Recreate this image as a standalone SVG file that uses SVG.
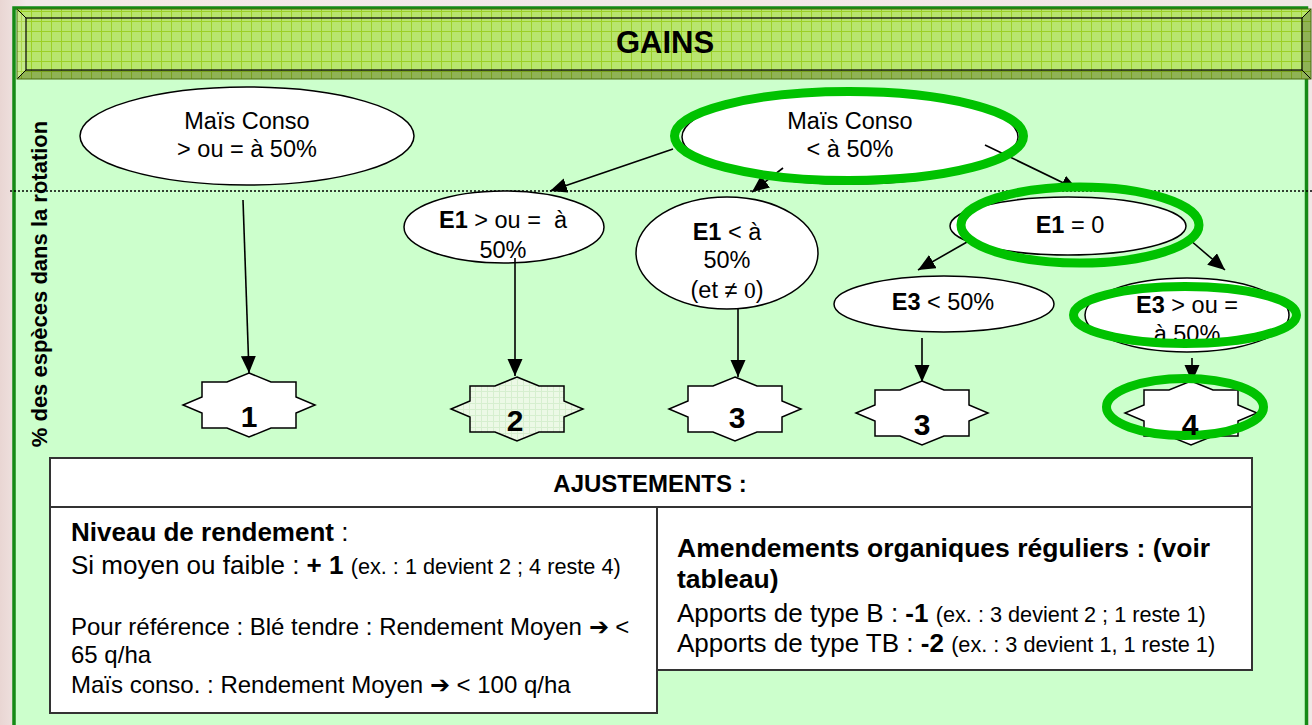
<svg xmlns="http://www.w3.org/2000/svg" width="1312" height="725" viewBox="0 0 1312 725">
<style>
.t{font-family:"Liberation Sans",Arial,sans-serif;fill:#000}
.b{font-weight:bold}
.el{fill:#fff;stroke:#000;stroke-width:1.5}
.hl{fill:none;stroke:#00c200;stroke-width:9}
.cn{stroke:#000;stroke-width:1.6;fill:none;marker-end:url(#ah)}
.box{fill:#fff;stroke:#333;stroke-width:2}
.star{fill:#fff;stroke:#000;stroke-width:1.5}
.num{font-family:"Liberation Sans",Arial,sans-serif;font-weight:bold;font-size:30px;text-anchor:middle}
.m{font-size:23.5px;text-anchor:middle}
</style>
<defs>
<marker id="ah" markerUnits="userSpaceOnUse" markerWidth="18" markerHeight="16" refX="17" refY="7.5" orient="auto"><path d="M0,0 L17,7.5 L0,15 z" fill="#000"/></marker>
<pattern id="grid" width="10" height="10" patternUnits="userSpaceOnUse" x="1" y="1"><rect width="10" height="10" fill="#b8e56e"/><path d="M0,0.5 H10 M0.5,0 V10" stroke="#9ccf26" stroke-width="1"/></pattern>
<pattern id="lgrid" width="6" height="6" patternUnits="userSpaceOnUse"><rect width="6" height="6" fill="#ecf9e6"/><path d="M0,0.5 H6 M0.5,0 V6" stroke="#d6efcf" stroke-width="1"/></pattern>
<linearGradient id="bg" x1="0" y1="0" x2="1" y2="0"><stop offset="0" stop-color="#e9d6d3"/><stop offset="0.02" stop-color="#f3e9e8"/><stop offset="1" stop-color="#f1e7e6"/></linearGradient>
<polygon id="star" points="0,-32 22,-23 47,-23 47,-8 66,0 47,8 47,23 22,23 0,32 -22,23 -47,23 -47,8 -66,0 -47,-8 -47,-23 -22,-23"/>
</defs>

<!-- background and frame -->
<rect x="0" y="0" width="1312" height="725" fill="url(#bg)"/>
<rect x="14" y="8" width="1292.5" height="760" fill="#ccffcc" stroke="#158a15" stroke-width="3.5"/>

<!-- banner -->
<g id="banner">
<rect x="17" y="9" width="1294" height="70" fill="url(#grid)"/>
<polygon points="17,9 26,18 26,70 17,79" fill="#ffffff" fill-opacity="0.18"/>
<polygon points="17,79 26,70 1302,70 1311,79" fill="#000" fill-opacity="0.22"/>
<polygon points="1311,9 1302,18 1302,70 1311,79" fill="#000" fill-opacity="0.22"/>
<rect x="26" y="18" width="1276" height="52" fill="none" stroke="#000" stroke-width="1.2"/>
<path d="M17,9 L26,18 M1311,9 L1302,18 M17,79 L26,70 M1311,79 L1302,70" stroke="#000" stroke-width="1"/>
<rect x="17" y="9" width="1294" height="70" fill="none" stroke="#4a6a10" stroke-width="1"/>
<text class="t b" x="665" y="53" font-size="31" text-anchor="middle">GAINS</text>
</g>

<!-- axis label and dotted line -->
<line x1="10" y1="191" x2="1312" y2="191" stroke="#000" stroke-width="1.5" stroke-dasharray="2,2"/>
<text class="t b" font-size="22" text-anchor="middle" transform="translate(47,284) rotate(-90)">% des espèces dans la rotation</text>

<!-- nodes -->
<g id="n-mais-ge">
<ellipse class="el" cx="247" cy="136" rx="167" ry="49"/>
<text class="t m" x="247" y="129">Maïs Conso</text>
<text class="t m" x="247" y="157">&gt; ou = à 50%</text>
</g>
<g id="n-mais-lt">
<ellipse class="el" cx="850" cy="137" rx="168" ry="47"/>
<text class="t m" x="850" y="129">Maïs Conso</text>
<text class="t m" x="850" y="157">&lt; à 50%</text>
</g>
<g id="n-e1-ge">
<ellipse class="el" cx="504" cy="227" rx="100" ry="36"/>
<text class="t" x="439" y="228" font-size="23.5" xml:space="preserve"><tspan class="b">E1</tspan> &gt; ou =  à</text>
<text class="t m" x="503" y="258">50%</text>
</g>
<g id="n-e1-lt">
<ellipse class="el" cx="727" cy="253" rx="91" ry="56"/>
<text class="t m" x="727" y="240"><tspan class="b">E1</tspan> &lt; à</text>
<text class="t m" x="727" y="268">50%</text>
<text class="t m" x="727" y="298">(et ≠ <tspan font-family="'Liberation Serif',serif">0</tspan>)</text>
</g>
<g id="n-e1-0">
<ellipse class="el" cx="1068" cy="226" rx="118" ry="29"/>
<text class="t m" x="1070" y="233"><tspan class="b">E1</tspan> = 0</text>
</g>
<g id="n-e3-lt">
<ellipse class="el" cx="944" cy="304" rx="110" ry="28"/>
<text class="t m" x="943" y="310"><tspan class="b">E3</tspan> &lt; 50%</text>
</g>
<g id="n-e3-ge">
<ellipse class="el" cx="1187" cy="315" rx="102" ry="37"/>
<text class="t m" x="1187" y="313"><tspan class="b">E3</tspan> &gt; ou =</text>
<text class="t m" x="1187" y="342">à 50%</text>
</g>

<!-- connectors -->
<g id="connectors">
<line class="cn" x1="243" y1="200" x2="249" y2="373"/>
<line class="cn" x1="673" y1="149" x2="550" y2="191"/>
<line class="cn" x1="783" y1="168" x2="752" y2="192"/>
<line class="cn" x1="985" y1="145" x2="1078" y2="190"/>
<line class="cn" x1="515" y1="258" x2="515" y2="376"/>
<line class="cn" x1="738" y1="309" x2="738" y2="377"/>
<line class="cn" x1="967" y1="242" x2="918" y2="270"/>
<line class="cn" x1="1190" y1="240" x2="1225" y2="270"/>
<line class="cn" x1="922" y1="338" x2="922" y2="382"/>
<line class="cn" x1="1192" y1="358" x2="1192" y2="382"/>
</g>

<!-- result stars -->
<g id="s1"><use href="#star" class="star" transform="translate(249,405)"/><text class="num" x="249" y="427">1</text></g>
<g id="s2"><use href="#star" class="star" style="fill:url(#lgrid)" transform="translate(517,409)"/><text class="num" x="515" y="431">2</text></g>
<g id="s3a"><use href="#star" class="star" transform="translate(735,409)"/><text class="num" x="737" y="428">3</text></g>
<g id="s3b"><use href="#star" class="star" transform="translate(922,413)"/><text class="num" x="922" y="435">3</text></g>
<g id="s4"><use href="#star" class="star" transform="translate(1191,413)"/></g>

<!-- highlight rings -->
<g id="highlights">
<ellipse class="hl" cx="849" cy="136" rx="174.5" ry="44.5"/>
<ellipse class="hl" cx="1080" cy="225" rx="119" ry="38"/>
<ellipse class="hl" cx="1185" cy="315" rx="111.5" ry="28.5"/>
<ellipse class="hl" cx="1185" cy="407" rx="78.5" ry="28.5"/>
</g>
<text class="num" x="1190" y="435">4</text>

<!-- adjustments -->
<g id="ajustements">
<rect class="box" x="50" y="458" width="1202" height="49"/>
<text class="t b" x="650" y="492" font-size="24" text-anchor="middle">AJUSTEMENTS :</text>
</g>
<g id="rendement">
<rect class="box" x="50" y="507" width="607" height="206"/>
<text class="t" x="71" y="541" font-size="26"><tspan class="b">Niveau de rendement</tspan> :</text>
<text class="t" x="71" y="574" font-size="26">Si moyen ou faible : <tspan class="b">+ 1</tspan> <tspan font-size="21.7">(ex. : 1 devient 2 ; 4 reste 4)</tspan></text>
<text class="t" x="71" y="635" font-size="24">Pour référence : Blé tendre : Rendement Moyen ➔ &lt;</text>
<text class="t" x="71" y="663" font-size="24">65 q/ha</text>
<text class="t" x="71" y="693" font-size="24">Maïs conso. : Rendement Moyen ➔ &lt; 100 q/ha</text>
</g>
<g id="amendements">
<rect class="box" x="657" y="507" width="595" height="163"/>
<text class="t b" x="677" y="557" font-size="26.5">Amendements organiques réguliers : (voir</text>
<text class="t b" x="677" y="588" font-size="26.5">tableau)</text>
<text class="t" x="677" y="622" font-size="26">Apports de type B : <tspan class="b">-1</tspan> <tspan font-size="21.7">(ex. : 3 devient 2 ; 1 reste 1)</tspan></text>
<text class="t" x="677" y="652" font-size="26">Apports de type TB : <tspan class="b">-2</tspan> <tspan font-size="21.7">(ex. : 3 devient 1, 1 reste 1)</tspan></text>
</g>
</svg>
